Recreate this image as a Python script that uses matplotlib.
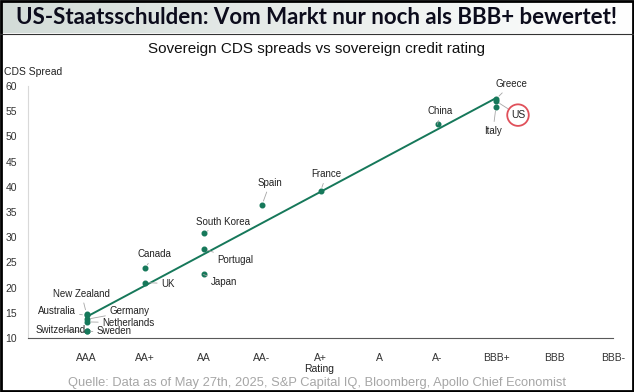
import numpy as np
import matplotlib.pyplot as plt
from matplotlib.patches import Rectangle

# rating scale on the x axis
ratings = ['AAA', 'AA+', 'AA', 'AA-', 'A+', 'A', 'A-', 'BBB+', 'BBB', 'BBB-']

# countries, their rating and CDS spread (bp)
countries = ['Switzerland', 'Sweden', 'Australia', 'New Zealand', 'Germany', 'Netherlands',
             'Canada', 'UK', 'South Korea', 'Portugal', 'Japan', 'Spain', 'France',
             'China', 'Italy', 'US', 'Greece']
country_rating = ['AAA', 'AAA', 'AAA', 'AAA', 'AAA', 'AAA',
                  'AA+', 'AA+', 'AA', 'AA', 'AA', 'AA-', 'A+',
                  'A-', 'BBB+', 'BBB+', 'BBB+']
cds_spread = [11.3, 11.3, 14.5, 14.8, 13.7, 13.2,
              23.8, 21.0, 30.8, 27.7, 22.6, 36.4, 39.1,
              52.4, 55.9, 57.0, 57.4]

# trend line end points (rating, spread)
trend_rating = ['AAA', 'BBB+']
trend_spread = [14.2, 57.6]

# label offsets in pixels (dx, dy) - styling only
offsets = {
    'Switzerland': (-26, 1), 'Sweden': (28, 0), 'Australia': (-30, 4),
    'New Zealand': (-5, 20), 'Germany': (43, 8), 'Netherlands': (42, -1),
    'Canada': (9, 14), 'UK': (23, -1), 'South Korea': (20, 11),
    'Portugal': (32, -11), 'Japan': (21, -8), 'Spain': (8, 22),
    'France': (6, 17), 'China': (3, 13), 'Italy': (-3, -24),
    'US': (22, -14), 'Greece': (15, 15),
}

green = '#16785a'
font = 'Liberation Sans'

fig = plt.figure(figsize=(6.34, 3.92), dpi=100)

# title banner with a grey-to-white gradient
bax = fig.add_axes([0, 1 - 33 / 392, 1, 33 / 392])
grad = np.linspace(0, 1, 256).reshape(1, -1)
bax.imshow(grad, aspect='auto', cmap=plt.matplotlib.colors.LinearSegmentedColormap.from_list(
    'g', ['#d3dcd8', '#ffffff']), extent=[0, 1, 0, 1])
bax.axis('off')
fig.text(0.5, 1 - 17 / 392, 'US-Staatsschulden: Vom Markt nur noch als BBB+ bewertet!',
         ha='center', va='center', fontsize=16, fontweight='bold', family='Lato', color='#0c0c1c')
fig.add_artist(plt.Line2D([0, 1], [1 - 33.5 / 392] * 2, color='#333333', lw=0.8))
fig.add_artist(Rectangle((0.001, 0.002), 0.997, 0.996, fill=False, ec='black', lw=2,
                         transform=fig.transFigure))

fig.text(0.5, 1 - 49 / 392, 'Sovereign CDS spreads vs sovereign credit rating',
         ha='center', va='center', fontsize=11, family=font, color='#111111')

ax = fig.add_axes([28 / 634, 54 / 392, 585 / 634, 252 / 392])
pos = {r: i for i, r in enumerate(ratings)}
xs = [pos[r] for r in country_rating]

ax.plot([pos[r] for r in trend_rating], trend_spread, color=green, lw=1.4, zorder=2)
ax.scatter(xs, cds_spread, s=11, color=green, zorder=3)

for name, x, y in zip(countries, xs, cds_spread):
    dx, dy = offsets[name]
    if name == 'US':
        ax.annotate(name, (x, y), xytext=(dx, dy), textcoords='offset pixels',
                    ha='center', va='center', fontsize=7.5, family=font, color='#222222',
                    bbox=dict(boxstyle='circle,pad=0.35', fc='white', ec='#e0505a', lw=1.3),
                    arrowprops=dict(arrowstyle='-', color='#a6a6a6', lw=0.6, shrinkA=0, shrinkB=3),
                    zorder=4)
    else:
        ax.annotate(name, (x, y), xytext=(dx, dy), textcoords='offset pixels',
                    ha='center', va='center', fontsize=7, family=font, color='#222222',
                    arrowprops=dict(arrowstyle='-', color='#a6a6a6', lw=0.6, shrinkA=1, shrinkB=3),
                    zorder=4)

ax.set_xlim(-1, 9)
ax.set_ylim(10, 60)
ax.set_yticks(np.arange(10, 61, 5))
ax.set_xticks(range(len(ratings)))
ax.set_xticklabels(ratings)
ax.tick_params(length=0, labelsize=7.5, colors='#333333')
ax.tick_params(axis='x', pad=11)
ax.tick_params(axis='y', pad=8)
for lab in ax.get_xticklabels() + ax.get_yticklabels():
    lab.set_family(font)
for sp in ['top', 'right']:
    ax.spines[sp].set_visible(False)
ax.spines['left'].set_color('#d9d9d9')
ax.spines['bottom'].set_color('#595959')
ax.set_xlabel('Rating', fontsize=7.5, family=font, color='#222222')
ax.xaxis.set_label_coords(0.497, -0.102)

fig.text(4 / 634, 1 - 72 / 392, 'CDS Spread', ha='left', va='center',
         fontsize=7.5, family=font, color='#222222')
fig.text(0.5, 1 - 383 / 392,
         'Quelle: Data as of May 27th, 2025, S&P Capital IQ, Bloomberg, Apollo Chief Economist',
         ha='center', va='center', fontsize=9.3, family=font, color='#a6a6a6')

fig.savefig('out.png', dpi=100)
